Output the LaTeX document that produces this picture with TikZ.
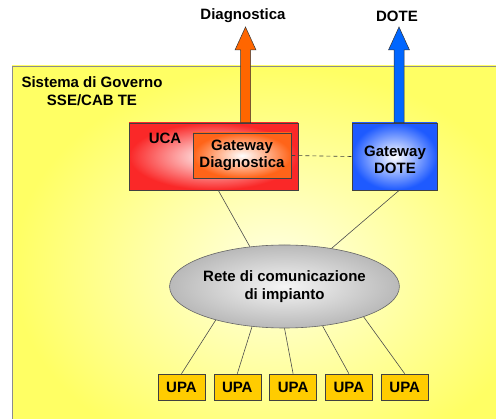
\documentclass[tikz,border=0pt]{standalone}
\usepackage{fontspec}
\setmainfont{Liberation Sans}
\usetikzlibrary{shapes.geometric,calc}
\definecolor{yellowout}{RGB}{255,255,100}
\definecolor{yellowin}{RGB}{255,255,228}
\definecolor{ucared}{RGB}{250,40,40}
\definecolor{gworange}{RGB}{255,100,25}
\definecolor{doteblue}{RGB}{30,90,255}
\definecolor{arroworange}{RGB}{255,102,0}
\definecolor{arrowblue}{RGB}{0,102,255}
\definecolor{upagold}{RGB}{255,204,0}
\definecolor{retegray}{RGB}{185,185,185}

\begin{document}
\begin{tikzpicture}[x=1pt, y=-1pt, font=\bfseries\fontsize{15}{17.5}\selectfont,
  box/.style={draw=black!75, line width=0.6pt, inner sep=0pt, align=center},
  link/.style={draw=black!70, line width=0.6pt},
  bigarrow/.style={draw=black!80, line width=0.5pt}]
  \useasboundingbox (0,0) rectangle (496,419);
  \clip (0,0) rectangle (496,419);
  \fill[white] (0,0) rectangle (496,419);
  \draw[black!45, line width=0.8pt, inner color=yellowin, outer color=yellowout] (12,66) rectangle (540,470);

  \node[align=center] (sistema) at (92,91) {Sistema di Governo\\SSE/CAB TE};
  \node (diaglabel) at (243,16) {Diagnostica};
  \node (dotelabel) at (397,16) {DOTE};
  \coordinate (diagtip) at (245.5,27);
  \coordinate (dotetip) at (399,27);

  \node[box, minimum width=169pt, minimum height=67pt, inner color=white, outer color=ucared] (uca) at (213.5,156.5) {};
  \node (ucatext) at (165,138) {UCA};
  \node[box, minimum width=98pt, minimum height=45pt, inner color=white, outer color=gworange] (gwdiag) at (242,155.5) {Gateway\\Diagnostica};
  \node[box, minimum width=85pt, minimum height=67pt, inner color=white, outer color=doteblue] (dote) at (394.5,156.5) {};
  \node[align=center] (dotetext) at (395,160) {Gateway\\DOTE};

  \foreach \t/\b/\c in {diagtip/uca/arroworange, dotetip/dote/arrowblue}
    \filldraw[bigarrow, fill=\c] (\t) -- ++(10.5,23) -- ++(-5.5,0) -- ($(\t|-\b.north)+(5,0)$) -- ++(-10,0) -- ($(\t)+(-5,23)$) -- ++(-5.5,0) -- cycle;

  \node[draw=black!60, line width=0.6pt, ellipse, minimum width=201pt, minimum height=83pt, inner sep=0pt,
        inner color=gray!8, outer color=retegray, align=center] (rete) at (284.5,286.5) {Rete di comunicazione\\di impianto};

  \foreach \i in {1,...,5}
    \node[box, minimum width=47pt, minimum height=26pt, fill=upagold] (upa\i) at ({181.5+55.8*(\i-1)},387) {UPA};

  \path[link] (uca.-82) edge (rete.131) (dote.-82) edge (rete.39);
  \draw[link, black!75, dash pattern=on 4pt off 3pt] (gwdiag.east) -- (dote.west);
  \foreach \i/\a in {1/206,2/231,3/270,4/314,5/339}
    \draw[link] (rete.\a) -- (upa\i.north);
\end{tikzpicture}
\end{document}
